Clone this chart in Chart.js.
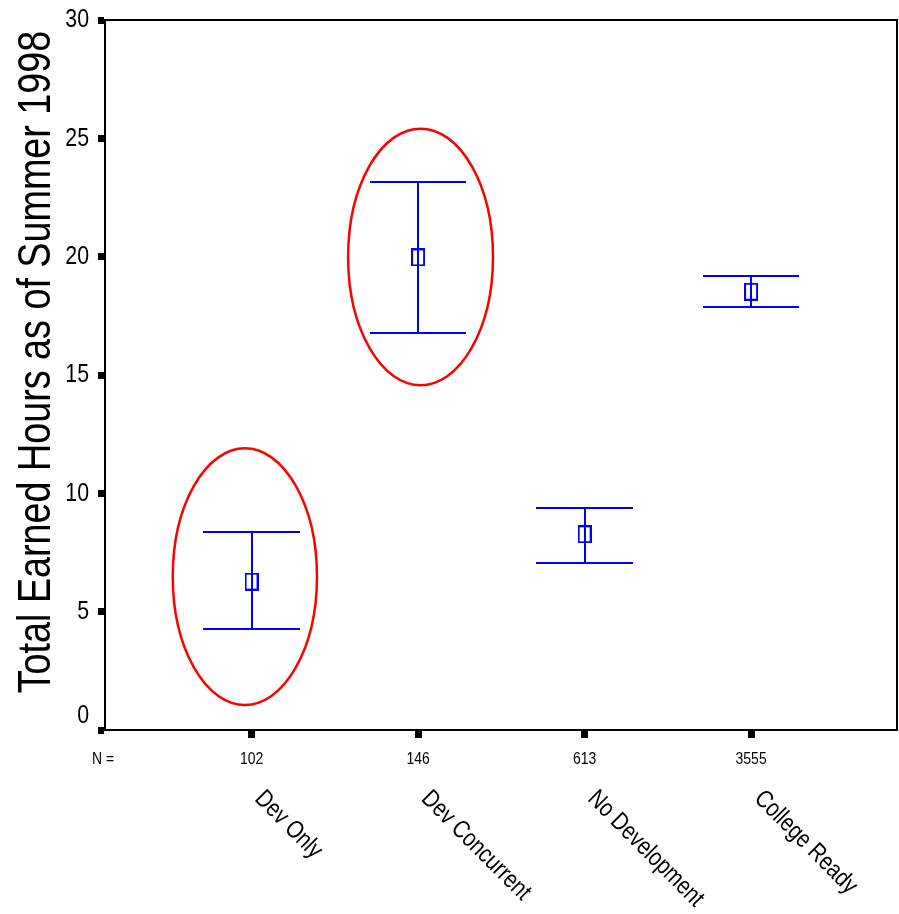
<!DOCTYPE html>
<html>
<head>
<meta charset="utf-8">
<script src="https://cdn.jsdelivr.net/npm/chart.js@4.4.1/dist/chart.umd.min.js"></script>
<style>
html, body { margin: 0; padding: 0; background: #fff; }
#wrap { width: 899px; height: 914px; }
</style>
</head>
<body>
<div id="wrap"><canvas id="errChart"></canvas></div>
<script>
const groups = ['Dev Only', 'Dev Concurrent', 'No Development', 'College Ready'];
const counts = [102, 146, 613, 3555];
const means = [6.27, 19.97, 8.27, 18.52];
const lower = [4.27, 16.76, 7.07, 17.86];
const upper = [8.38, 23.17, 9.37, 19.20];
const yTicks = [0, 5, 10, 15, 20, 25, 30];
// red rings round two groups: centre (group index, hours) and half axes
const ringX = [-0.04, 1.015];
const ringY = [6.48, 19.99];
const ringRX = [0.433, 0.435];
const ringRY = [5.42, 5.42];

// no Arial Narrow here, so squeeze Liberation Sans sideways
const FONT = '"Liberation Sans", Arial, sans-serif';
const SQUEEZE = 0.82;
const CAP = 0.29; // half width of whisker caps, in group units

// open box used for the means
const meanBox = document.createElement('canvas');
meanBox.width = 14;
meanBox.height = 18;
const mb = meanBox.getContext('2d');
mb.strokeStyle = '#0000ff';
mb.lineWidth = 2;
mb.strokeRect(1, 1, 12, 16);

function narrowText(ctx, text, x, y, size, angle, align, baseline) {
    ctx.save();
    ctx.translate(x, y);
    ctx.rotate(angle);
    ctx.scale(SQUEEZE, 1);
    ctx.font = size + 'px ' + FONT;
    ctx.textAlign = align;
    ctx.textBaseline = baseline;
    ctx.fillStyle = '#000';
    ctx.fillText(text, 0, 0);
    ctx.restore();
}

const errorBars = {
    id: 'errorBars',
    beforeDatasetsDraw(chart) {
        const { ctx, scales: { x, y } } = chart;
        ctx.save();
        ctx.lineWidth = 2.5;
        ctx.strokeStyle = '#ff0000';
        ringX.forEach((cx, i) => {
            const px = x.getPixelForValue(cx);
            const py = y.getPixelForValue(ringY[i]);
            const rx = x.getPixelForValue(cx + ringRX[i]) - px;
            const ry = py - y.getPixelForValue(ringY[i] + ringRY[i]);
            ctx.beginPath();
            ctx.ellipse(px, py, rx, ry, 0, 0, Math.PI * 2);
            ctx.stroke();
        });
        ctx.strokeStyle = '#0000ff';
        ctx.lineWidth = 2;
        groups.forEach((g, i) => {
            const px = Math.round(x.getPixelForValue(i));
            const l = Math.round(x.getPixelForValue(i - CAP));
            const r = Math.round(x.getPixelForValue(i + CAP));
            const t = Math.round(y.getPixelForValue(upper[i]));
            const b = Math.round(y.getPixelForValue(lower[i]));
            ctx.beginPath();
            ctx.moveTo(l, t); ctx.lineTo(r, t);
            ctx.moveTo(l, b); ctx.lineTo(r, b);
            ctx.moveTo(px, t); ctx.lineTo(px, b);
            ctx.stroke();
        });
        ctx.restore();
    },
    afterDraw(chart) {
        const { ctx, chartArea: a, scales: { x, y } } = chart;
        ctx.save();
        // frame round the plot
        ctx.strokeStyle = '#000';
        ctx.lineWidth = 2;
        ctx.strokeRect(a.left, a.top, a.right - a.left, a.bottom - a.top);
        ctx.restore();

        // y tick labels, the 0 lifted off the axis
        yTicks.forEach(v => {
            narrowText(ctx, String(v), a.left - 16, y.getPixelForValue(v) + (v === 0 ? -14 : 0), 26, 0, 'right', 'middle');
        });
        narrowText(ctx, 'Total Earned Hours as of Summer 1998', 50, 362, 46, -Math.PI / 2, 'center', 'alphabetic');

        // counts row and slanted group names
        narrowText(ctx, 'N =', 92, 759, 17, 0, 'left', 'middle');
        groups.forEach((g, i) => {
            const px = x.getPixelForValue(i);
            narrowText(ctx, String(counts[i]), px, 759, 17, 0, 'center', 'middle');
            narrowText(ctx, g, px + 7, 795, 25, Math.PI / 4, 'left', 'middle');
        });
    }
};

new Chart(document.getElementById('errChart'), {
    type: 'scatter',
    data: {
        datasets: [{
            label: 'Mean',
            data: means.map((m, i) => ({ x: i, y: m })),
            pointStyle: meanBox,
            pointRadius: 7,
            showLine: false
        }]
    },
    options: {
        responsive: true,
        maintainAspectRatio: false,
        animation: false,
        layout: { autoPadding: false, padding: { top: 20, right: 2, left: 0, bottom: 0 } },
        plugins: {
            legend: { display: false },
            tooltip: { enabled: false }
        },
        scales: {
            x: {
                type: 'linear',
                min: -0.88,
                max: 3.876,
                afterBuildTicks: s => { s.ticks = groups.map((g, i) => ({ value: i })); },
                afterFit: s => { s.height = 184; },
                ticks: { display: false },
                grid: { drawOnChartArea: false, tickLength: 8, tickWidth: 7, tickColor: '#000' },
                border: { color: '#000', width: 2 }
            },
            y: {
                min: 0,
                max: 30,
                afterBuildTicks: s => { s.ticks = yTicks.map(v => ({ value: v })); },
                afterFit: s => { s.width = 105; },
                ticks: { display: false },
                grid: { drawOnChartArea: false, tickLength: 7, tickWidth: 7, tickColor: '#000' },
                border: { color: '#000', width: 2 }
            }
        }
    },
    plugins: [errorBars]
});
</script>
</body>
</html>
